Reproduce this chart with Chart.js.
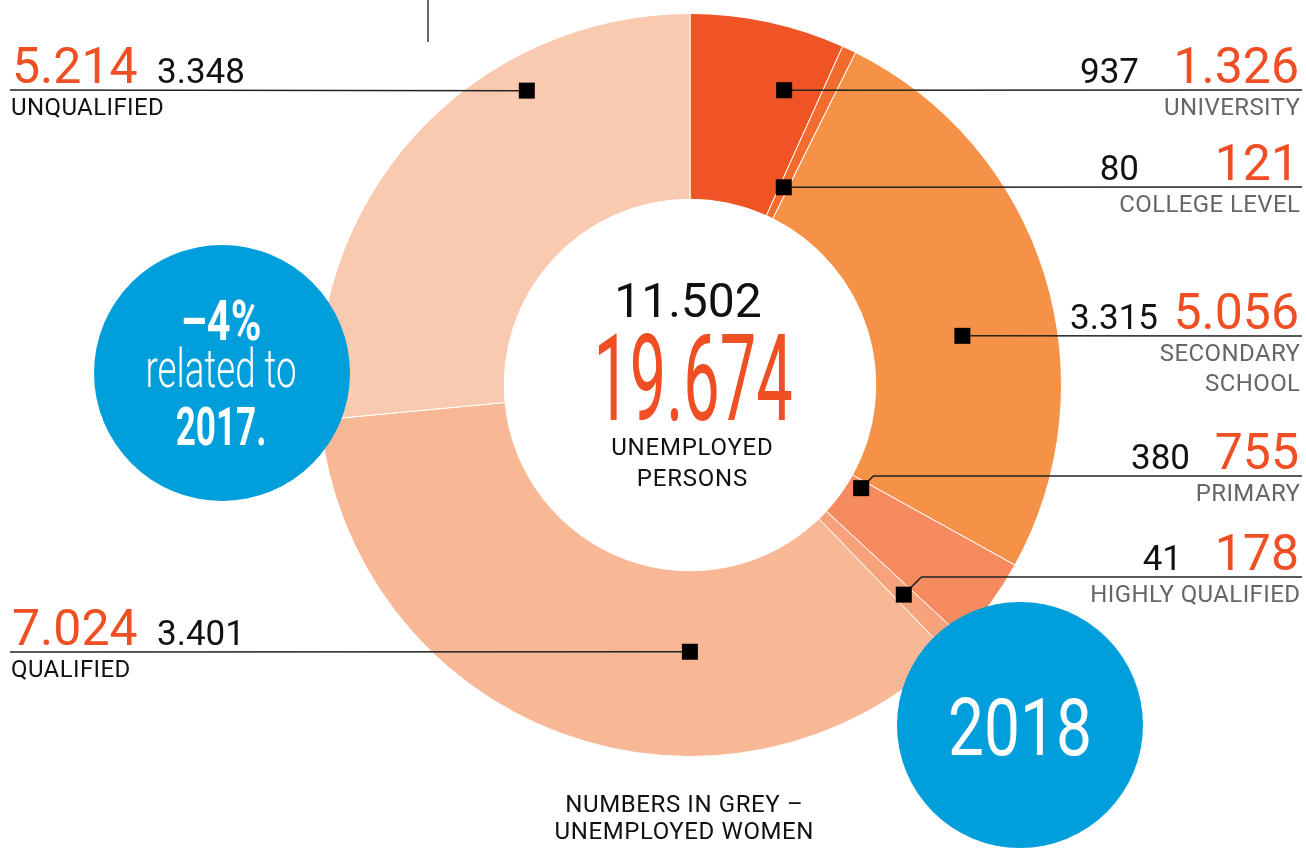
<!DOCTYPE html>
<html>
<head>
<meta charset="utf-8">
<script src="https://cdn.jsdelivr.net/npm/chart.js@4.4.0/dist/chart.umd.min.js"></script>
<style>
  body { margin: 0; background: #fff; }
  #wrap { width: 1306px; height: 848px; }
</style>
</head>
<body>
<div id="wrap"><canvas id="donut" width="1306" height="848"></canvas></div>
<script>
// data (clockwise from 12 o'clock)
const categories = ['UNIVERSITY', 'COLLEGE LEVEL', 'SECONDARY\nSCHOOL', 'PRIMARY', 'HIGHLY QUALIFIED', 'QUALIFIED', 'UNQUALIFIED'];
const totalValues = [1326, 121, 5056, 755, 178, 7024, 5214];
const womenValues = [937, 80, 3315, 380, 41, 3401, 3348];
const sliceColors = ['#F05424', '#F36C2F', '#F69247', '#F58B5F', '#F8A27C', '#F8B795', '#F9CAAF'];
const changeText = ['–4%', 'related to', '2017.'];
const yearText = '2018';
const centerCaption = ['UNEMPLOYED', 'PERSONS'];
const footnote = ['NUMBERS IN GREY –', 'UNEMPLOYED WOMEN'];

// where the leader for each slice sits (layout only)
const leaders = [
  { side: 'right', lineY: 90,  frac: 0.73,  r: 0.833, blackX: 1139 },
  { side: 'right', lineY: 187, frac: 0.5,   r: 0.589, blackX: 1139 },
  { side: 'right', lineY: 336, frac: 0.576, r: 0.745, blackX: 1158 },
  { side: 'right', lineY: 476, frac: 0.15,  r: 0.538, blackX: 1190 },
  { side: 'right', lineY: 577, frac: 0.5,   r: 0.806, blackX: 1182 },
  { side: 'left',  lineY: 652, frac: 0.342, r: 0.718, blackX: 157 },
  { side: 'left',  lineY: 90,  frac: 0.696, r: 0.906, blackX: 157 }
];

const BLUE = '#009FDB';
const RED = '#F04E23';
const FONT = 'Roboto, "Noto Sans", sans-serif';

function fmt(n) {
  return String(n).replace(/\B(?=(\d{3})+(?!\d))/g, '.');
}

function txt(ctx, s, x, y, font, color, align, sx, ls) {
  ctx.save();
  ctx.font = font;
  ctx.fillStyle = color;
  ctx.textAlign = align || 'left';
  ctx.textBaseline = 'alphabetic';
  if (ls) ctx.letterSpacing = ls + 'px';
  ctx.translate(x, y);
  ctx.scale(sx || 1, 1);
  // letterSpacing pads after the last glyph too, shift it back
  let dx = 0;
  if (ls && align === 'center') dx = ls / 2;
  if (ls && align === 'right') dx = ls;
  ctx.fillText(s, dx, 0);
  ctx.restore();
}

function disc(ctx, x, y, r) {
  ctx.beginPath();
  ctx.arc(x, y, r, 0, Math.PI * 2);
  ctx.fillStyle = BLUE;
  ctx.fill();
}

const overlay = {
  id: 'overlay',
  afterDraw(chart) {
    const ctx = chart.ctx;
    const arcs = chart.getDatasetMeta(0).data;
    const cx = arcs[0].x, cy = arcs[0].y;
    const R = arcs[0].outerRadius;

    // little rule at the top
    ctx.save();
    ctx.strokeStyle = '#333';
    ctx.lineWidth = 1.5;
    ctx.beginPath();
    ctx.moveTo(428, 0);
    ctx.lineTo(428, 42);
    ctx.stroke();
    ctx.restore();

    // blue bubbles
    disc(ctx, 222, 373, 128);
    disc(ctx, 1020, 725, 123);
    txt(ctx, changeText[0], 221, 340, 'bold 56px ' + FONT, '#fff', 'center', 0.74);
    txt(ctx, changeText[1], 221, 387, '300 54px ' + FONT, '#fff', 'center', 0.68);
    txt(ctx, changeText[2], 221, 445, 'bold 54px ' + FONT, '#fff', 'center', 0.65);
    txt(ctx, yearText, 1020, 755, '80px ' + FONT, '#fff', 'center', 0.8);

    // centre totals
    const total = totalValues.reduce((a, b) => a + b, 0);
    const women = womenValues.reduce((a, b) => a + b, 0);
    txt(ctx, fmt(women), cx - 2, 317, '48px ' + FONT, '#111', 'center', 1.0);
    txt(ctx, fmt(total), cx + 3, 420, '120px ' + FONT, RED, 'center', 0.54);
    txt(ctx, centerCaption[0], cx + 2, 455, '24px ' + FONT, '#111', 'center', 1, 0.8);
    txt(ctx, centerCaption[1], cx + 2, 486, '24px ' + FONT, '#111', 'center', 1, 0.8);

    // footnote
    txt(ctx, footnote[0], 684, 812, '24px ' + FONT, '#111', 'center', 1, 0.6);
    txt(ctx, footnote[1], 684, 839, '24px ' + FONT, '#111', 'center', 1, 0.6);

    // leaders, markers, labels
    arcs.forEach((arc, i) => {
      const L = leaders[i];
      const a = arc.startAngle + (arc.endAngle - arc.startAngle) * L.frac;
      const mx = cx + Math.cos(a) * R * L.r;
      const my = cy + Math.sin(a) * R * L.r;
      const dir = L.side === 'right' ? 1 : -1;
      const endX = L.side === 'right' ? 1302 : 10;

      ctx.save();
      ctx.strokeStyle = '#222';
      ctx.lineWidth = 1.5;
      ctx.beginPath();
      ctx.moveTo(mx, my);
      const dy = Math.abs(my - L.lineY);
      if (dy > 1) ctx.lineTo(mx + dir * dy, L.lineY);
      ctx.lineTo(endX, L.lineY);
      ctx.stroke();
      ctx.fillStyle = '#000';
      ctx.fillRect(mx - 8, my - 8, 16, 16);
      ctx.restore();

      const base = L.lineY - 7;
      const names = categories[i].split('\n');
      if (L.side === 'right') {
        txt(ctx, fmt(totalValues[i]), 1299, base, '50px ' + FONT, RED, 'right', 1);
        txt(ctx, fmt(womenValues[i]), L.blackX, base, '35px ' + FONT, '#111', 'right', 1);
        names.forEach((n, k) => {
          txt(ctx, n, 1300, L.lineY + 25 + k * 30, '24px ' + FONT, '#666', 'right', 1, 0.4);
        });
      } else {
        txt(ctx, fmt(totalValues[i]), 12, base, '50px ' + FONT, RED, 'left', 1);
        txt(ctx, fmt(womenValues[i]), L.blackX, base, '35px ' + FONT, '#111', 'left', 1);
        names.forEach((n, k) => {
          txt(ctx, n, 11, L.lineY + 25 + k * 30, '24px ' + FONT, '#111', 'left', 1, 0.4);
        });
      }
    });
  }
};

new Chart(document.getElementById('donut'), {
  type: 'doughnut',
  data: {
    labels: categories,
    datasets: [{
      data: totalValues,
      backgroundColor: sliceColors,
      borderColor: '#fff',
      borderWidth: 1
    }]
  },
  options: {
    responsive: false,
    animation: false,
    cutout: '50%',
    layout: { padding: { left: 318, top: 12, right: 244, bottom: 90 } },
    plugins: {
      legend: { display: false },
      tooltip: { enabled: false }
    }
  },
  plugins: [overlay]
});
</script>
</body>
</html>
